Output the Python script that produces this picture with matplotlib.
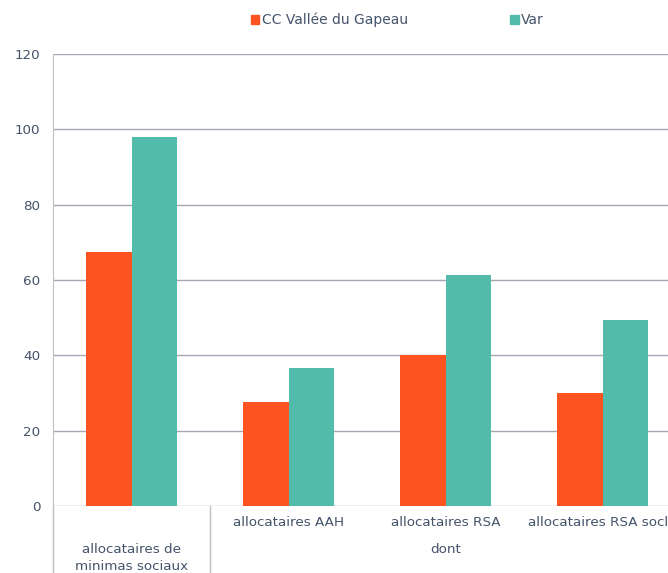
import numpy as np
import matplotlib.pyplot as plt
from matplotlib.patches import Patch

# data
categories = ['allocataires de\nminimas sociaux', 'allocataires AAH',
              'allocataires RSA', 'allocataires RSA socle']
series_names = ['CC Vallée du Gapeau', 'Var']
gapeau = [67.4, 27.6, 40.1, 30.0]
var = [98.0, 36.6, 61.3, 49.4]
yticks = [0, 20, 40, 60, 80, 100, 120]

orange = '#FD5320'
teal = '#52BBA9'
txtcol = '#44546A'
gridcol = '#A6A6B4'
fs = 9.7

fig = plt.figure(figsize=(6.68, 5.73), dpi=100)
# axes runs past the right edge of the figure, like the cropped original
ax = fig.add_axes([53/668, 67/573, 628/668, 452/573])

x = np.arange(len(categories))
w = 0.29
ax.bar(x - w/2, gapeau, w, color=orange, zorder=3)
ax.bar(x + w/2, var, w, color=teal, zorder=3)

ax.set_xlim(-0.5, len(categories) - 0.5)
ax.set_ylim(0, 120)
ax.set_yticks(yticks)
ax.yaxis.grid(True, color=gridcol, linewidth=1)
ax.set_axisbelow(True)
ax.tick_params(axis='y', length=0, pad=9, labelsize=fs, labelcolor=txtcol)
ax.set_xticks([])
for s in ['top', 'right', 'bottom']:
    ax.spines[s].set_visible(False)
ax.spines['left'].set_color('#BFBFC8')

# multi-level category axis
tr = ax.get_xaxis_transform()
ax.plot([-0.5, -0.5], [0, -0.16], color='#BFBFC8', lw=1, transform=tr, clip_on=False)
ax.plot([0.5, 0.5], [0, -0.16], color='#BFBFC8', lw=1, transform=tr, clip_on=False)
for i in range(1, len(categories)):
    ax.text(x[i], -0.0376, categories[i], transform=tr, ha='center', va='center',
            fontsize=fs, color=txtcol, clip_on=False)
ax.text(2, -0.0973, 'dont', transform=tr, ha='center', va='center',
        fontsize=fs, color=txtcol)
line1, line2 = categories[0].split('\n')
ax.text(0, -0.0953, line1, transform=tr, ha='center', va='center', fontsize=fs, color=txtcol)
ax.text(0, -0.1335, line2, transform=tr, ha='center', va='center', fontsize=fs, color=txtcol)

handles = [Patch(color=orange), Patch(color=teal)]
fig.legend(handles, series_names, loc='center', bbox_to_anchor=(0.595, 0.965),
           ncol=2, frameon=False, fontsize=10, labelcolor=txtcol,
           handlelength=0.6, handleheight=0.6, handletextpad=0.2,
           columnspacing=7.35)

fig.savefig('out.png', dpi=100)
